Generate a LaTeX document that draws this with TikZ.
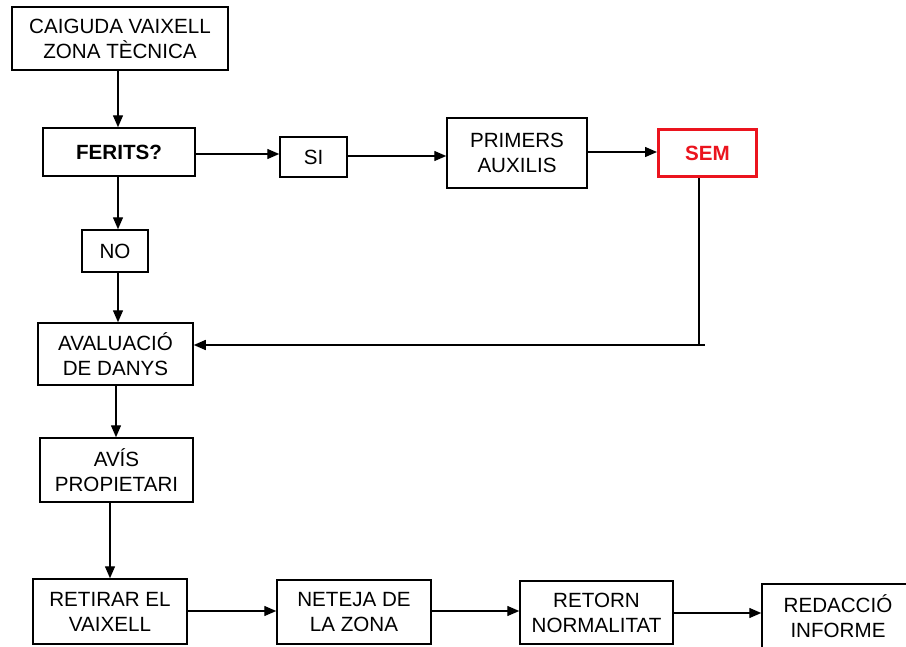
\documentclass[tikz,border=0pt]{standalone}
\usepackage{fontspec}
\setmainfont{Liberation Sans}
\usetikzlibrary{arrows.meta,shadows}
\definecolor{semred}{RGB}{235,20,30}
\tikzset{
  box/.style={draw=black, line width=1.5pt, fill=white, align=center, inner sep=0pt,
    font=\fontsize{20.6}{25}\selectfont,
    drop shadow={shadow xshift=1.2pt, shadow yshift=1.2pt, fill=black, opacity=1}},
  redbox/.style={draw=semred, line width=3pt, fill=white, align=center, inner sep=0pt,
    font=\fontsize{20.6}{25}\selectfont\bfseries, text=semred},
  arr/.style={line width=1.4pt, -{Triangle[length=12pt,width=10pt]}},
  ln/.style={line width=1.4pt}
}
\begin{document}
\begin{tikzpicture}[x=1pt,y=-1pt]
\useasboundingbox (0,0) rectangle (906,646);
\begin{scope}
\clip (0,0) rectangle (906,646);
\node[box, minimum width=216pt, minimum height=63pt] (cai) at (120,38.5) {CAIGUDA VAIXELL\\ZONA TÈCNICA};
\node[box, minimum width=152pt, minimum height=48pt, font=\fontsize{20.6}{25}\selectfont\bfseries] (fer) at (119,152) {FERITS?};
\node[box, minimum width=67pt, minimum height=40pt] (si) at (313.5,157) {SI};
\node[box, minimum width=140pt, minimum height=70pt] (pri) at (517,153) {PRIMERS\\AUXILIS};
\node[redbox, minimum width=98pt, minimum height=47pt] (sem) at (707.5,153) {SEM};
\node[box, minimum width=66pt, minimum height=42pt] (no) at (115,251) {NO};
\node[box, minimum width=155pt, minimum height=62pt] (ava) at (115.5,354) {AVALUACIÓ\\DE DANYS};
\node[box, minimum width=153pt, minimum height=64pt] (avi) at (116.5,470) {AVÍS\\PROPIETARI};
\node[box, minimum width=154pt, minimum height=65pt] (ret) at (110,611.5) {RETIRAR EL\\VAIXELL};
\node[box, minimum width=154pt, minimum height=64pt] (net) at (354,612) {NETEJA DE\\LA ZONA};
\node[box, minimum width=153pt, minimum height=63pt] (rtn) at (596.5,612.5) {RETORN\\NORMALITAT};
\node[box, minimum width=152pt, minimum height=64pt] (red) at (838,616) {REDACCIÓ\\INFORME};

\draw[arr] (cai.south -| 118,0) -- (fer.north -| 118,0);
\draw[arr] (fer.south -| 118,0) -- (no.north -| 118,0);
\draw[arr] (no.south -| 118,0) -- (ava.north -| 118,0);
\draw[arr] (ava.south -| 116,0) -- (avi.north -| 116,0);
\draw[arr] (avi.south -| 110,0) -- (ret.north -| 110,0);
\draw[arr] (fer.east |- 0,154) -- (si.west |- 0,154);
\draw[arr] (si.east |- 0,156) -- (pri.west |- 0,156);
\draw[arr] (pri.east |- 0,152) -- (sem.west |- 0,152);
\coordinate (c1) at (699,345);
\draw[ln] (sem.south -| c1) -- (c1) -- ++(6,0);
\draw[arr] (c1) -- (ava.east |- c1);
\draw[arr] (ret.east |- 0,611) -- (net.west |- 0,611);
\draw[arr] (net.east |- 0,611) -- (rtn.west |- 0,611);
\draw[arr] (rtn.east |- 0,613) -- (red.west |- 0,613);
\end{scope}
\end{tikzpicture}
\end{document}
